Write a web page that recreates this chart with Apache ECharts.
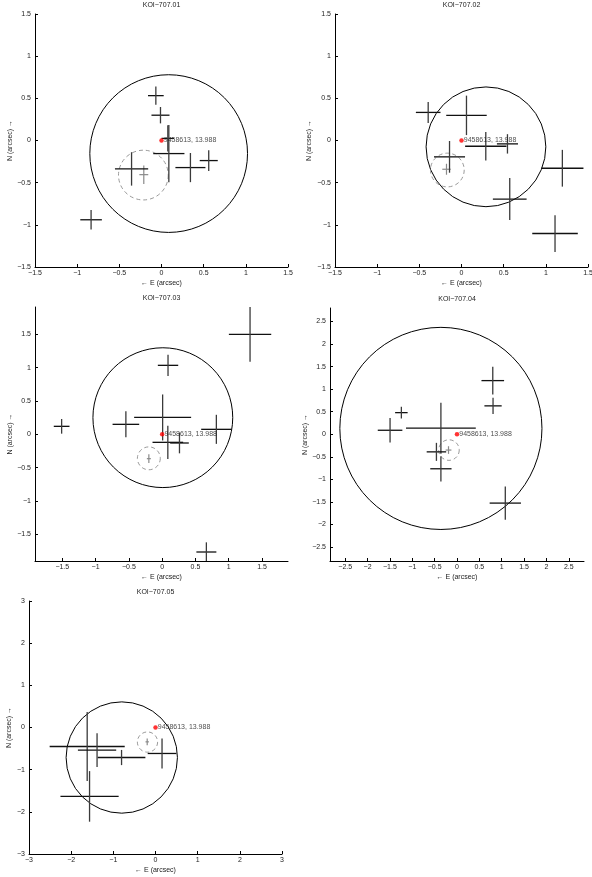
<!DOCTYPE html>
<html>
<head>
<meta charset="utf-8">
<script src="https://cdn.jsdelivr.net/npm/echarts@6/dist/echarts.min.js"></script>
<style>html,body{margin:0;padding:0;background:#fff}#c{width:592px;height:877px}</style>
</head>
<body>
<div id="c"></div>
<script>
// ---- data (arcsec) ----
const panelTitles = ['KOI−707.01', 'KOI−707.02', 'KOI−707.03', 'KOI−707.04', 'KOI−707.05'];
const targetLabel = '9458613, 13.988';
const targetPos = [0, 0];

// stars: [x, y, xErr, yErr]
const stars01 = [
  [-0.067, 0.532, 0.093, 0.107],
  [-0.012, 0.300, 0.107, 0.097],
  [0.075, 0.025, 0.075, 0.155],
  [0.087, -0.155, 0.185, 0.340],
  [0.343, -0.321, 0.178, 0.173],
  [0.560, -0.238, 0.107, 0.123],
  [-0.355, -0.337, 0.197, 0.198],
  [-0.835, -0.940, 0.128, 0.115]
];
const stars02 = [
  [-0.395, 0.333, 0.146, 0.125],
  [0.059, 0.298, 0.240, 0.234],
  [0.288, -0.068, 0.245, 0.170],
  [0.545, -0.040, 0.125, 0.115],
  [-0.142, -0.194, 0.184, 0.188],
  [0.572, -0.694, 0.200, 0.250],
  [1.196, -0.329, 0.250, 0.218],
  [1.109, -1.103, 0.270, 0.218]
];
const stars03 = [
  [1.320, 1.500, 0.318, 0.410],
  [0.088, 1.035, 0.153, 0.160],
  [0.007, 0.253, 0.428, 0.345],
  [-0.545, 0.150, 0.200, 0.195],
  [-1.510, 0.120, 0.118, 0.110],
  [0.814, 0.075, 0.228, 0.218],
  [0.085, -0.120, 0.230, 0.250],
  [0.260, -0.130, 0.140, 0.155],
  [0.664, -1.765, 0.150, 0.145]
];
const stars04 = [
  [0.800, 1.190, 0.253, 0.307],
  [0.806, 0.630, 0.193, 0.180],
  [-1.244, 0.480, 0.140, 0.130],
  [-1.497, 0.089, 0.275, 0.274],
  [-0.360, 0.135, 0.780, 0.565],
  [-0.460, -0.390, 0.218, 0.200],
  [-0.360, -0.765, 0.238, 0.280],
  [1.080, -1.526, 0.350, 0.370]
];
const stars05 = [
  [-1.620, -0.450, 0.890, 0.820],
  [-1.386, -0.537, 0.454, 0.400],
  [-0.805, -0.712, 0.565, 0.180],
  [0.155, -0.616, 0.340, 0.355],
  [-1.564, -1.634, 0.690, 0.600]
];
// measured target centroid: [x, y, xErr, yErr]
const targets = [
  [-0.210, -0.405, 0.053, 0.110],
  [-0.178, -0.341, 0.050, 0.065],
  [-0.200, -0.365, 0.030, 0.065],
  [-0.190, -0.350, 0.065, 0.085],
  [-0.197, -0.340, 0.040, 0.080]
];
// solid circles: [cx, cy, r]
const solidCircles = [
  [0.085, -0.155, 0.935],
  [0.290, -0.075, 0.710],
  [0.010, 0.250, 1.050],
  [-0.360, 0.130, 2.260],
  [-0.800, -0.712, 1.320]
];
// dashed circles: [cx, cy, r]
const dashedCircles = [
  [-0.215, -0.410, 0.295],
  [-0.168, -0.350, 0.200],
  [-0.200, -0.360, 0.172],
  [-0.180, -0.350, 0.230],
  [-0.190, -0.345, 0.240]
];
// axis ranges
const xRanges = [[-1.5, 1.5], [-1.5, 1.5], [-1.91, 1.89], [-2.84, 2.84], [-3, 3]];
const yRanges = [[-1.5, 1.5], [-1.5, 1.5], [-1.9, 1.91], [-2.81, 2.8], [-3, 3]];
const tickValues = [
  [-1.5, -1, -0.5, 0, 0.5, 1, 1.5],
  [-1.5, -1, -0.5, 0, 0.5, 1, 1.5],
  [-1.5, -1, -0.5, 0, 0.5, 1, 1.5],
  [-2.5, -2, -1.5, -1, -0.5, 0, 0.5, 1, 1.5, 2, 2.5],
  [-3, -2, -1, 0, 1, 2, 3]
];
const xName = '← E (arcsec)';
const yName = 'N (arcsec) →';
const allStars = [stars01, stars02, stars03, stars04, stars05];

// ---- layout ----
const grids = [
  {left: 35, top: 14, width: 253, height: 253},
  {left: 335, top: 14, width: 253, height: 253},
  {left: 35, top: 307, width: 253, height: 254},
  {left: 330, top: 308, width: 254, height: 253},
  {left: 29, top: 601, width: 253, height: 253}
];
const yNameGaps = [19, 22, 21, 19, 16];
const FONT = 'Liberation Sans, Arial, Helvetica, sans-serif';
const TXT = '#222';

const fmt = v => String(+(+v).toFixed(2)).replace('-', '−');

function crossRender(hColor, vColor, lw) {
  return function (params, api) {
    const x = api.value(0), y = api.value(1), ex = api.value(2), ey = api.value(3);
    const a = api.coord([x - ex, y]), b = api.coord([x + ex, y]);
    const c = api.coord([x, y - ey]), d = api.coord([x, y + ey]);
    return {
      type: 'group',
      children: [
        {type: 'line', shape: {x1: a[0], y1: a[1], x2: b[0], y2: b[1]}, style: {stroke: hColor, lineWidth: lw}},
        {type: 'line', shape: {x1: c[0], y1: c[1], x2: d[0], y2: d[1]}, style: {stroke: vColor, lineWidth: lw}}
      ]
    };
  };
}
function circleRender(color, dash) {
  return function (params, api) {
    const c = api.coord([api.value(0), api.value(1)]);
    const r = api.size([api.value(2), 0])[0];
    return {
      type: 'circle',
      shape: {cx: c[0], cy: c[1], r: r},
      style: {fill: 'none', stroke: color, lineWidth: 1, lineDash: dash || null}
    };
  };
}

const option = {
  animation: false,
  backgroundColor: '#fff',
  textStyle: {fontFamily: FONT},
  grid: grids.map(g => Object.assign({containLabel: false, outerBoundsMode: 'none'}, g)),
  xAxis: [], yAxis: [], series: [], graphic: []
};

for (let i = 0; i < 5; i++) {
  const g = grids[i];
  const common = {
    type: 'value', gridIndex: i, splitLine: {show: false},
    axisLine: {show: true, onZero: false, lineStyle: {color: '#000', width: 1}},
    axisTick: {show: true, inside: true, length: 3, lineStyle: {color: '#000', width: 1}, customValues: tickValues[i]},
    axisLabel: {fontSize: 7, color: TXT, fontFamily: FONT, formatter: fmt, customValues: tickValues[i], showMinLabel: true, showMaxLabel: true},
    nameLocation: 'middle',
    nameTextStyle: {fontSize: 7, color: TXT, fontFamily: FONT}
  };
  option.xAxis.push(Object.assign({}, common, {
    position: 'bottom', min: xRanges[i][0], max: xRanges[i][1],
    name: xName, nameGap: 13,
    axisLabel: Object.assign({}, common.axisLabel, {margin: 3})
  }));
  option.yAxis.push(Object.assign({}, common, {
    position: 'left', min: yRanges[i][0], max: yRanges[i][1],
    name: yName, nameGap: yNameGaps[i],
    axisLabel: Object.assign({}, common.axisLabel, {margin: 4})
  }));
  option.series.push({
    type: 'custom', xAxisIndex: i, yAxisIndex: i, clip: true, silent: true,
    renderItem: circleRender('#000', null), data: [solidCircles[i]], z: 2
  });
  option.series.push({
    type: 'custom', xAxisIndex: i, yAxisIndex: i, clip: true, silent: true,
    renderItem: circleRender('#9a9a9a', [4, 3]), data: [dashedCircles[i]], z: 2
  });
  option.series.push({
    type: 'custom', xAxisIndex: i, yAxisIndex: i, clip: true, silent: true,
    renderItem: crossRender('#8a8a8a', '#8a8a8a', 1.2), data: [targets[i]], z: 3
  });
  option.series.push({
    type: 'custom', xAxisIndex: i, yAxisIndex: i, clip: true, silent: true,
    renderItem: crossRender('#111', '#3a3a3a', 1.3), data: allStars[i], z: 4
  });
  option.series.push({
    type: 'scatter', xAxisIndex: i, yAxisIndex: i, silent: true,
    symbol: 'circle', symbolSize: 4.5, itemStyle: {color: '#ff0000'},
    data: [targetPos],
    label: {show: true, position: 'right', distance: 0, formatter: targetLabel, fontSize: 7, color: TXT, fontFamily: FONT},
    z: 5
  });
  option.graphic.push({
    type: 'text', x: g.left + g.width / 2, y: g.top - 9,
    style: {text: panelTitles[i], fontSize: 7, fill: TXT, fontFamily: FONT, textAlign: 'center', textVerticalAlign: 'middle'}
  });
}

const chart = echarts.init(document.getElementById('c'), null, {renderer: 'canvas'});
chart.setOption(option);
</script>
</body>
</html>
